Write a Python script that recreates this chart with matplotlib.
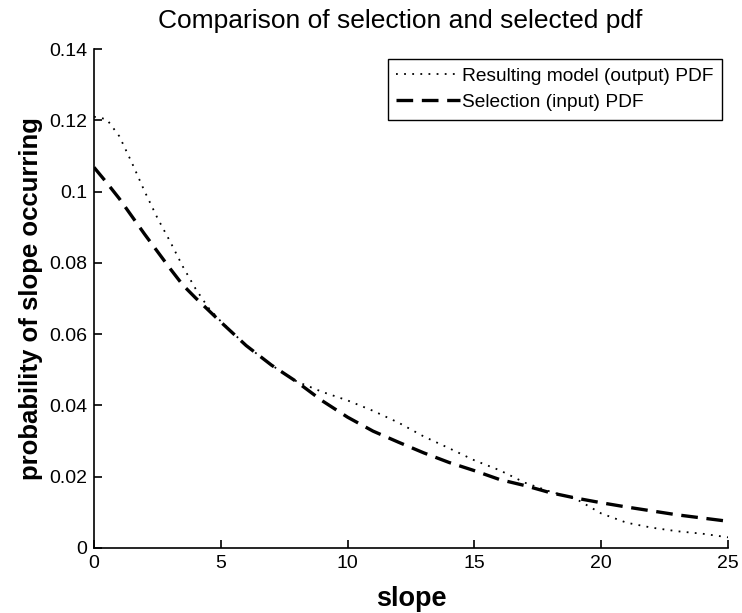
import matplotlib
matplotlib.use('Agg')
import matplotlib.pyplot as plt
import numpy as np

x = np.array([0, 0.5, 1, 1.5, 2, 2.5, 3, 3.5, 4, 4.5, 5,
              6, 7, 8, 9, 10, 11, 12, 13, 14, 15, 16, 17, 18, 19, 20,
              21, 22, 23, 24, 25])

# resulting model (output) pdf - dotted
y_out = np.array([0.121, 0.1203, 0.1155, 0.108, 0.100, 0.0926, 0.086, 0.079, 0.0728, 0.0675, 0.0636,
                  0.0568, 0.0513, 0.0467, 0.0438, 0.0414, 0.0385, 0.0352, 0.0313, 0.0280, 0.0246,
                  0.0218, 0.0183, 0.0158, 0.0138, 0.0097, 0.0071, 0.0057, 0.0047, 0.0040, 0.0030])

# selection (input) pdf - dashed
y_sel = np.array([0.1068, 0.1025, 0.098, 0.093, 0.088, 0.0832, 0.0784, 0.0738, 0.0702, 0.0668, 0.0634,
                  0.0568, 0.0513, 0.0466, 0.0413, 0.0367, 0.0328, 0.0297, 0.0267, 0.0240, 0.0217,
                  0.0192, 0.0175, 0.0155, 0.0140, 0.0127, 0.0115, 0.0104, 0.0093, 0.0084, 0.0075])

xticks = [0, 5, 10, 15, 20, 25]
yticks = [0, 0.02, 0.04, 0.06, 0.08, 0.1, 0.12, 0.14]
ytick_labels = ['0', '0.02', '0.04', '0.06', '0.08', '0.1', '0.12', '0.14']

plt.rcParams['font.family'] = ['Liberation Sans', 'DejaVu Sans']

f = plt.figure(figsize=(7.42, 6.13), dpi=100)
ax = f.add_axes([94/742, 1 - 548/613, (728-94)/742, (548-49)/613])

ax.plot(x, y_out, color='black', linewidth=1.3, dashes=(1, 3.5),
        label='Resulting model (output) PDF')
ax.plot(x, y_sel, color='black', linewidth=2.4, dashes=(5, 2.6),
        label='Selection (input) PDF')

ax.set_xlim(0, 25)
ax.set_ylim(0, 0.14)
ax.set_xticks(xticks)
ax.set_yticks(yticks)
ax.set_yticklabels(ytick_labels)
ax.tick_params(direction='in', length=6, width=1.2, labelsize=14, pad=5)
ax.spines['top'].set_visible(False)
ax.spines['right'].set_visible(False)
ax.spines['left'].set_linewidth(1.2)
ax.spines['bottom'].set_linewidth(1.2)

ax.set_title('Comparison of selection and selected pdf', fontsize=19, pad=15, x=0.483)
ax.set_xlabel('slope', fontsize=19.5, fontweight='bold', labelpad=10)
ax.set_ylabel('probability of slope occurring', fontsize=18.5, fontweight='bold', labelpad=4)

leg = ax.legend(loc='upper right', bbox_to_anchor=(0.99, 0.98), fancybox=False,
                framealpha=1, edgecolor='black', fontsize=13.8, handlelength=3.3,
                handletextpad=0.1, borderpad=0.45, labelspacing=0.45, borderaxespad=0)
leg.get_frame().set_linewidth(1.0)

f.savefig('out.png', dpi=100)
